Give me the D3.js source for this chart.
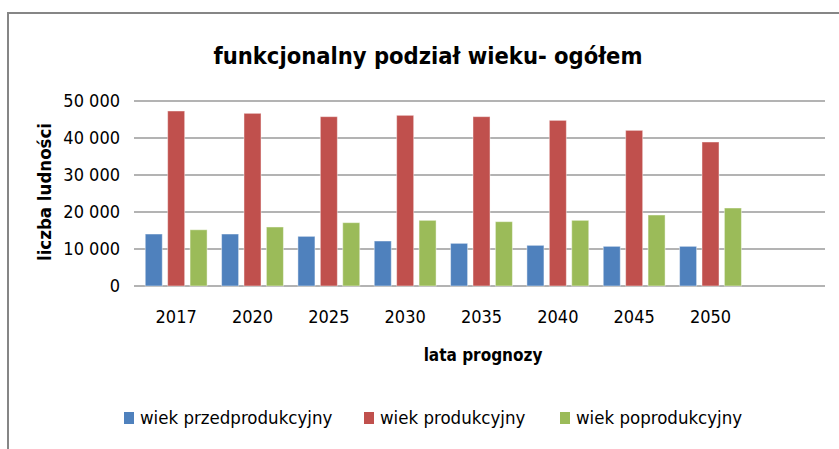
<!DOCTYPE html>
<html>
<head>
<meta charset="utf-8">
<script src="https://cdn.jsdelivr.net/npm/d3@7"></script>
<style>
  body { margin: 0; background: #fff; }
  text { font-family: "DejaVu Sans Condensed", "Open Sans", sans-serif; fill: #000; }
</style>
</head>
<body>
<div class="chart"></div>
<script>
// lata prognozy (the last slot is empty in the original chart)
var years = ["2017", "2020", "2025", "2030", "2035", "2040", "2045", "2050", ""];
var seriesNames = ["wiek przedprodukcyjny", "wiek produkcyjny", "wiek poprodukcyjny"];
var przed = [14050, 14050, 13420, 12160, 11530, 10990, 10720, 10720];
var prod = [47300, 46670, 45770, 46130, 45770, 44770, 42070, 38920];
var popr = [15200, 15950, 17120, 17750, 17390, 17750, 19190, 21080];
var yTicks = [0, 10000, 20000, 30000, 40000, 50000];
var colors = ["#4F81BD", "#C0504D", "#9BBB59"];

var W = 839, H = 449;
var margin = {top: 101, right: 14, bottom: 163, left: 138},
    width = W - margin.left - margin.right,
    height = H - margin.top - margin.bottom;

var svg = d3.select(".chart").append("svg")
    .attr("width", W)
    .attr("height", H);

// outer frame (only top and left edge visible)
svg.append("path")
    .attr("d", "M8,449 V13 H839")
    .attr("fill", "none")
    .attr("stroke", "#868686")
    .attr("stroke-width", 2);

var g = svg.append("g")
    .attr("transform", "translate(" + margin.left + "," + margin.top + ")");

var x = d3.scaleBand()
    .domain(years)
    .range([0, width])
    .paddingInner(0.19)
    .paddingOuter(0.095);

var x1 = d3.scaleBand()
    .domain(seriesNames)
    .range([0, x.bandwidth()])
    .paddingInner(0.24);

var y = d3.scaleLinear()
    .domain([0, 50000])
    .range([height, 0]);

// gridlines
g.selectAll(".grid")
    .data(yTicks)
    .enter().append("line")
    .attr("class", "grid")
    .attr("x1", -4)
    .attr("x2", width)
    .attr("y1", function(d){ return y(d); })
    .attr("y2", function(d){ return y(d); })
    .attr("stroke", "#9a9a9a")
    .attr("stroke-width", 1.6);

var fmt = function(d) { return d3.format(",")(d).replace(/,/g, " "); };

var yAxis = d3.axisLeft(y)
    .tickValues(yTicks)
    .tickSize(0)
    .tickPadding(18)
    .tickFormat(fmt);

var ya = g.append("g").call(yAxis);
ya.select(".domain").remove();
ya.selectAll("text").attr("font-size", 18).style("font-family", null);

var data = years.slice(0, 8).map(function(yr, i) {
  return {year: yr, values: [przed[i], prod[i], popr[i]]};
});

var groups = g.selectAll(".grp")
    .data(data)
    .enter().append("g")
    .attr("class", "grp")
    .attr("transform", function(d){ return "translate(" + x(d.year) + ",0)"; });

groups.selectAll("rect")
    .data(function(d){ return d.values.map(function(v, j){ return {name: seriesNames[j], v: v, c: colors[j]}; }); })
    .enter().append("rect")
    .attr("x", function(d){ return x1(d.name); })
    .attr("width", x1.bandwidth())
    .attr("y", function(d){ return y(d.v); })
    .attr("height", function(d){ return height - y(d.v); })
    .attr("fill", function(d){ return d.c; })
    .attr("stroke", "rgba(255,255,255,0.45)")
    .attr("stroke-width", 1);

var xAxis = d3.axisBottom(x)
    .tickSize(0)
    .tickPadding(24);

var xa = g.append("g")
    .attr("transform", "translate(0," + height + ")")
    .call(xAxis);
xa.select(".domain").remove();
xa.selectAll("text").attr("font-size", 18).style("font-family", null);

// titles
svg.append("text")
    .attr("x", 428)
    .attr("y", 64)
    .attr("text-anchor", "middle")
    .attr("font-size", 23.5)
    .attr("font-weight", "bold")
    .text("funkcjonalny podział wieku- ogółem");

svg.append("text")
    .attr("text-anchor", "middle")
    .attr("transform", "translate(51,192)rotate(-90)")
    .attr("font-size", 18.5)
    .attr("font-weight", "bold")
    .text("liczba ludności");

svg.append("text")
    .attr("x", 483)
    .attr("y", 361)
    .attr("text-anchor", "middle")
    .attr("font-size", 17)
    .attr("font-weight", "bold")
    .text("lata prognozy");

// legend
var legendX = [124, 364, 560];
var leg = svg.selectAll(".leg")
    .data(seriesNames)
    .enter().append("g")
    .attr("class", "leg")
    .attr("transform", function(d, i){ return "translate(" + legendX[i] + ",412)"; });

leg.append("rect")
    .attr("width", 10)
    .attr("height", 12)
    .attr("fill", function(d, i){ return colors[i]; });

leg.append("text")
    .attr("x", 16)
    .attr("y", 12)
    .attr("font-size", 18.5)
    .text(function(d){ return d; });
</script>
</body>
</html>
